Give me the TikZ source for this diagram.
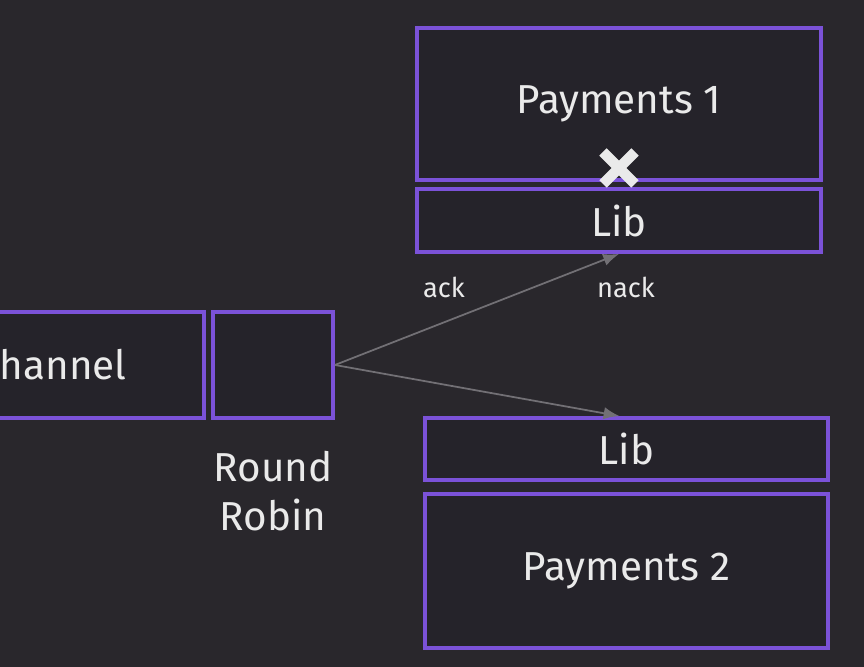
\documentclass[tikz,border=0pt]{standalone}
\usepackage{fontspec}
\setmainfont{Fira Sans}
\usepackage{tikz}
\usetikzlibrary{arrows.meta}
\definecolor{bgdark}{HTML}{29272C}
\definecolor{boxfill}{HTML}{25232A}
\definecolor{frame}{HTML}{7B52D8}
\definecolor{wire}{HTML}{727075}
\definecolor{ink}{HTML}{EAEAEA}

\begin{document}
\begin{tikzpicture}[
	box/.style={draw=frame, fill=boxfill, line width=2.2pt, text=ink, font=\fontsize{23}{27}\selectfont},
	tag/.style={text=ink, font=\fontsize{15.5}{18}\selectfont},
	wirearrow/.style={draw=wire, line width=1pt, -{Latex[length=9pt,width=7pt]}}]
\fill[bgdark] (0,0) rectangle (17.28,13.34);
\useasboundingbox (0,0) rectangle (17.28,13.34);
\clip (0,0) rectangle (17.28,13.34);
\path (12.38,11.26) node[box, minimum width=8.08cm, minimum height=3.04cm] (pay1) {Payments 1}
		(12.38,8.93) node[box, minimum width=8.08cm, minimum height=1.26cm] (lib1) {Lib}
		(1.04,6.04) node[box, minimum width=6.08cm, minimum height=2.12cm] (chan) {Channel}
		(5.46,6.04) node[box, minimum width=2.4cm, minimum height=2.12cm] (rr) {}
		(5.46,3.52) node[text=ink, font=\fontsize{23}{27.5}\selectfont, align=center] (rrlabel) {Round\\Robin}
		(12.53,4.36) node[box, minimum width=8.06cm, minimum height=1.24cm] (lib2) {Lib}
		(12.53,1.92) node[box, minimum width=8.06cm, minimum height=3.08cm] (pay2) {Payments 2}
		(8.88,7.6) node[tag] (ack) {ack}
		(12.52,7.6) node[tag] (nack) {nack}
		(12.38,9.98) coordinate (fail);
\draw[wirearrow] (rr.east) -- (lib1.south);
\draw[wirearrow] (rr.east) -- ([xshift=-4pt]lib2.north);
% cross on the failing service
\draw[ink, line width=6pt] ([shift={(-0.32,-0.32)}]fail) -- ([shift={(0.32,0.32)}]fail)
		([shift={(-0.32,0.32)}]fail) -- ([shift={(0.32,-0.32)}]fail);

\end{tikzpicture}
\end{document}
